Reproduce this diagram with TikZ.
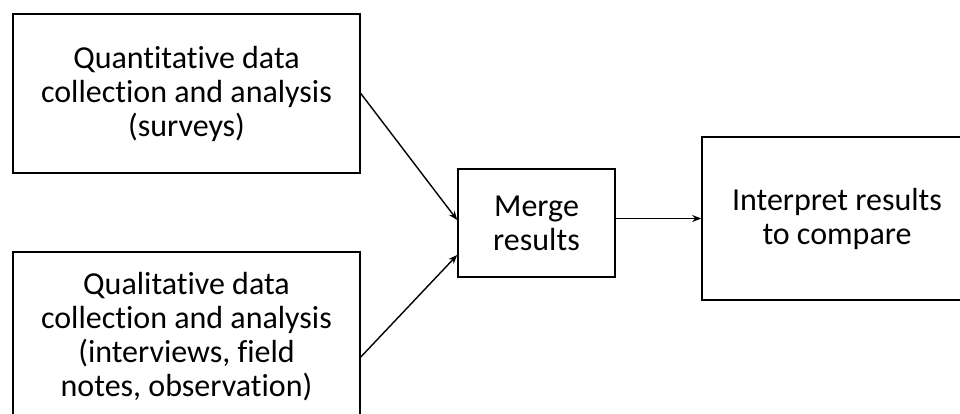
\documentclass[tikz,border=0pt]{standalone}
\usepackage{fontspec}
\setmainfont[Ligatures=NoCommon]{Carlito}
\usetikzlibrary{arrows.meta,calc}
\begin{document}
\begin{tikzpicture}[x=1pt,y=-1pt,
  box/.style={draw=black,line width=1.6pt,align=center,inner sep=0pt,
    font=\fontsize{32}{34}\selectfont},
  conn/.style={line width=1.4pt,-{Stealth[length=9pt,width=7pt]}}]
\useasboundingbox (0,0) rectangle (960,414);
\clip (0,0) rectangle (960,414);
\fill[white] (0,0) rectangle (960,414);
\node[box,minimum width=347pt,minimum height=159pt] (b1) at (186.5,93.5)
  {Quantitative data\\collection and analysis\\(surveys)};
\node[box,minimum width=347pt,minimum height=170pt] (b2) at (186.5,337)
  {Qualitative data\\collection and analysis\\(interviews, field\\notes, observation)};
\node[box,minimum width=157pt,minimum height=108pt] (m) at (536.5,223)
  {Merge\\results};
\node[box,minimum width=270pt,minimum height=163pt] (i) at (837,218.5)
  {Interpret results\\to compare};
\coordinate (m1) at ($(m.west)+(0,-3)$);
\coordinate (m2) at ($(m.west)+(0,32)$);
\coordinate (s2) at ($(b2.east)+(0,20)$);
\draw[conn] (b1.east) -- (m1);
\draw[conn] (s2) -- (m2);
\draw[conn] (m.east |- i.west) -- (i.west);
\end{tikzpicture}
\end{document}
